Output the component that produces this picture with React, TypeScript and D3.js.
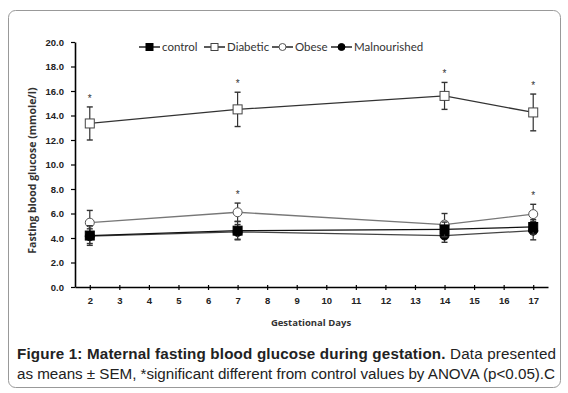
import React, { useEffect, useRef } from 'react';
import * as d3 from 'd3';

const days = [2, 7, 14, 17];
const xTicks = d3.range(2, 18);
const yTicks = [0, 2, 4, 6, 8, 10, 12, 14, 16, 18, 20];

const controlMean = [4.2, 4.6, 4.7, 4.9];
const controlSem = [0.8, 0.75, 0.6, 0.6];
const diabeticMean = [13.35, 14.5, 15.6, 14.25];
const diabeticSem = [1.35, 1.4, 1.1, 1.5];
const obeseMean = [5.25, 6.1, 5.1, 5.95];
const obeseSem = [1.0, 0.75, 0.9, 0.8];
const malMean = [4.15, 4.5, 4.2, 4.6];
const malSem = [0.6, 0.6, 0.55, 0.75];

const diabeticSig = [true, true, true, true];
const obeseSig = [false, true, false, true];

interface Series {
  name: string;
  mean: number[];
  sem: number[];
  marker: 'square' | 'circle';
  fill: string;
  stroke: string;
  line: string;
  sig?: boolean[];
}

const series: Series[] = [
  { name: 'Obese', mean: obeseMean, sem: obeseSem, marker: 'circle', fill: '#fff', stroke: '#555', line: '#777', sig: obeseSig },
  { name: 'Malnourished', mean: malMean, sem: malSem, marker: 'circle', fill: '#000', stroke: '#000', line: '#444' },
  { name: 'control', mean: controlMean, sem: controlSem, marker: 'square', fill: '#000', stroke: '#000', line: '#111' },
  { name: 'Diabetic', mean: diabeticMean, sem: diabeticSem, marker: 'square', fill: '#fff', stroke: '#444', line: '#333', sig: diabeticSig },
];

const legendOrder = ['control', 'Diabetic', 'Obese', 'Malnourished'];

const App: React.FC = () => {
  const svgRef = useRef<SVGSVGElement>(null);

  useEffect(() => {
    if (!svgRef.current) return;
    const svg = d3.select(svgRef.current);
    svg.selectAll('*').remove();

    // frame
    svg.append('rect')
      .attr('x', 8.5).attr('y', 10.5).attr('width', 552).attr('height', 377)
      .attr('rx', 7).attr('fill', '#fff').attr('stroke', '#999').attr('stroke-width', 1);

    const x = d3.scaleLinear().domain([1.5, 17.5]).range([75, 548]);
    const y = d3.scaleLinear().domain([0, 20]).range([287, 42]);

    const tickFont = 'Liberation Sans, Arial, sans-serif';

    // y axis
    const ya = svg.append('g').attr('transform', `translate(75,0)`)
      .call(d3.axisLeft(y).tickValues(yTicks).tickSize(4).tickSizeOuter(0).tickFormat(d => (d as number).toFixed(1)));
    ya.select('.domain').attr('stroke', '#000').attr('stroke-width', 1.6);
    ya.selectAll('.tick line').attr('stroke', '#000').attr('stroke-width', 1.2);
    ya.selectAll('text').attr('font-family', tickFont).attr('font-size', 9.5).attr('font-weight', 'bold').attr('fill', '#222').attr('x', -11);

    // x axis
    const xa = svg.append('g').attr('transform', `translate(0,287)`)
      .call(d3.axisBottom(x).tickValues(xTicks).tickSize(3).tickSizeOuter(0).tickFormat(d3.format('d')));
    xa.select('.domain').attr('stroke', '#000').attr('stroke-width', 1.6);
    xa.selectAll('.tick line').attr('stroke', '#000').attr('stroke-width', 1.2).attr('y1', -2);
    xa.selectAll('text').attr('font-family', tickFont).attr('font-size', 9.5).attr('font-weight', 'bold').attr('fill', '#222').attr('y', 10);

    // axis titles
    svg.append('text')
      .attr('transform', `translate(36,${y(9.5)}) rotate(-90)`)
      .attr('text-anchor', 'middle')
      .attr('font-family', 'Open Sans, sans-serif').attr('font-size', 10.5).attr('font-weight', 'bold').attr('fill', '#333')
      .text('Fasting blood glucose (mmole/l)');
    svg.append('text')
      .attr('x', 311).attr('y', 326)
      .attr('text-anchor', 'middle')
      .attr('font-family', 'Open Sans, sans-serif').attr('font-size', 9.5).attr('font-weight', 'bold').attr('fill', '#333')
      .text('Gestational Days');

    const drawMarker = (g: d3.Selection<SVGGElement, unknown, null, undefined>, s: Series, cx: number, cy: number, size: number) => {
      if (s.marker === 'square') {
        g.append('rect').attr('x', cx - size / 2).attr('y', cy - size / 2).attr('width', size).attr('height', size)
          .attr('fill', s.fill).attr('stroke', s.stroke).attr('stroke-width', 1);
      } else {
        g.append('circle').attr('cx', cx).attr('cy', cy).attr('r', size / 2)
          .attr('fill', s.fill).attr('stroke', s.stroke).attr('stroke-width', 1);
      }
    };

    const line = d3.line<number>().x((_, i) => x(days[i])).y(d => y(d));

    series.forEach(s => {
      const g = svg.append('g') as d3.Selection<SVGGElement, unknown, null, undefined>;
      g.append('path').attr('d', line(s.mean) || '').attr('fill', 'none').attr('stroke', s.line).attr('stroke-width', 1.3);
      s.mean.forEach((m, i) => {
        const cx = x(days[i]);
        const top = y(m + s.sem[i]);
        const bot = y(m - s.sem[i]);
        g.append('line').attr('x1', cx).attr('x2', cx).attr('y1', top).attr('y2', bot).attr('stroke', '#333').attr('stroke-width', 1.2);
        [top, bot].forEach(yy => {
          g.append('line').attr('x1', cx - 3).attr('x2', cx + 3).attr('y1', yy).attr('y2', yy).attr('stroke', '#333').attr('stroke-width', 1.4);
        });
        drawMarker(g, s, cx, y(m), 9);
        if (s.sig && s.sig[i]) {
          g.append('text').attr('x', cx).attr('y', top - 5).attr('text-anchor', 'middle')
            .attr('font-family', tickFont).attr('font-size', 10).attr('fill', '#333').text('*');
        }
      });
    });

    // legend
    const legendX = [139, 204, 272, 331];
    legendOrder.forEach((name, i) => {
      const s = series.find(d => d.name === name)!;
      const g = svg.append('g') as d3.Selection<SVGGElement, unknown, null, undefined>;
      const lx = legendX[i];
      g.append('line').attr('x1', lx).attr('x2', lx + 21).attr('y1', 47).attr('y2', 47).attr('stroke', '#000').attr('stroke-width', 1.3);
      drawMarker(g, s, lx + 10.5, 47, 7);
      g.append('text').attr('x', lx + 23).attr('y', 51)
        .attr('font-family', 'Lato, sans-serif').attr('font-size', 11.5).attr('fill', '#333').text(name);
    });

    // caption
    const capFont = 'Liberation Sans, Arial, sans-serif';
    const l1 = svg.append('text').attr('x', 17).attr('y', 359)
      .attr('font-family', capFont).attr('font-size', 15.2).attr('fill', '#222')
      .attr('textLength', 539).attr('lengthAdjust', 'spacing');
    l1.append('tspan').attr('font-weight', 'bold').text('Figure 1: Maternal fasting blood glucose during gestation.');
    l1.append('tspan').text(' Data presented');
    svg.append('text').attr('x', 17).attr('y', 379)
      .attr('font-family', capFont).attr('font-size', 15.2).attr('fill', '#222')
      .attr('textLength', 538).attr('lengthAdjust', 'spacing')
      .text('as means ± SEM, *significant different from control values by ANOVA (p<0.05).C');
  }, []);

  return <svg ref={svgRef} width={568} height={393} style={{ position: 'absolute', left: 0, top: 0 }} />;
};

export default App;
